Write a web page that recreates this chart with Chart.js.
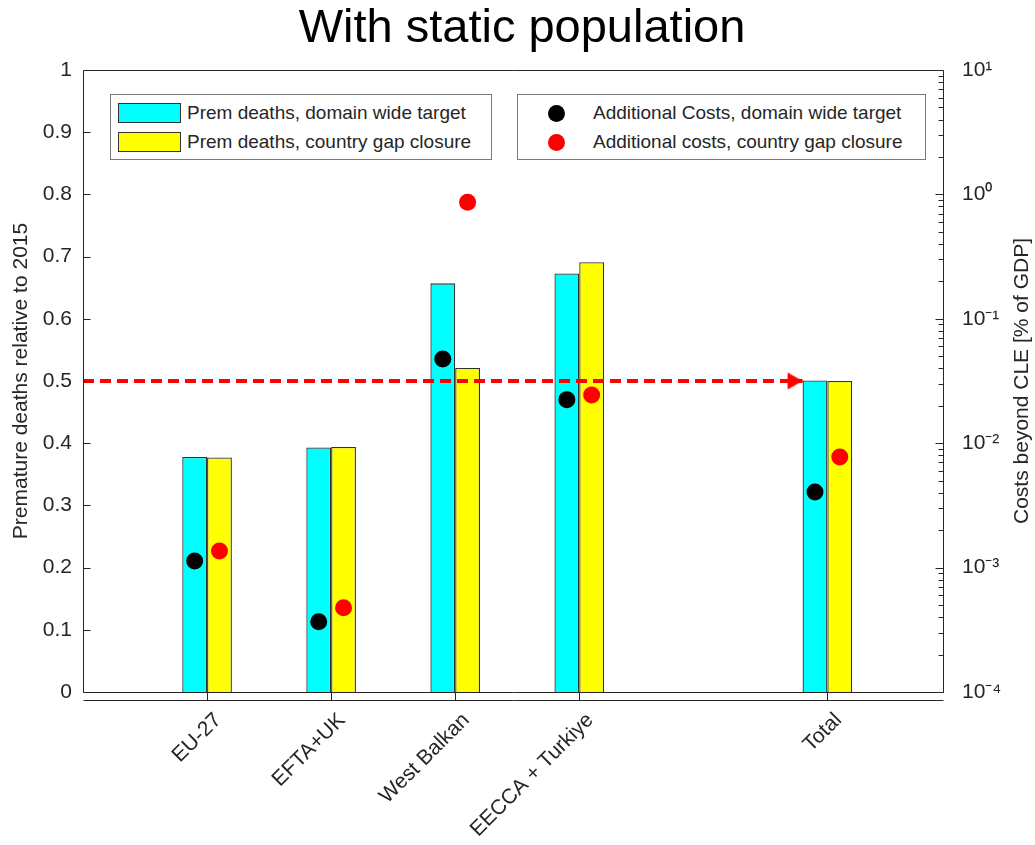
<!DOCTYPE html>
<html>
<head>
<meta charset="utf-8">
<script src="https://cdn.jsdelivr.net/npm/chart.js@4.4.1/dist/chart.umd.min.js"></script>
<style>
  html, body { margin: 0; padding: 0; background: #fff; }
  #wrap { position: relative; width: 1035px; height: 845px; font-family: 'Liberation Sans', Arial, sans-serif; }
  .legend { position: absolute; background: #fff; border: 1px solid #7a7a7a; box-sizing: border-box; }
  .item { position: absolute; font-size: 19px; color: #262626; line-height: 20px; white-space: nowrap; }
  .swatch { position: absolute; width: 63px; height: 20px; box-sizing: border-box; border: 1px solid #333; }
  .dot { position: absolute; width: 17px; height: 17px; border-radius: 50%; }
</style>
</head>
<body>
<div id="wrap">
  <canvas id="c" width="1035" height="845"></canvas>
</div>
<script>
// Regions on the x axis (Total is set apart by an empty slot)
const categories = ['EU-27', 'EFTA+UK', 'West Balkan', 'EECCA + Turkiye', 'Total'];
const slots = [1, 2, 3, 4, 6];

// Premature deaths relative to 2015 (left axis)
const deathsDomainWide = [0.378, 0.393, 0.657, 0.673, 0.501];
const deathsGapClosure = [0.377, 0.394, 0.521, 0.691, 0.500];

// Costs beyond CLE in % of GDP (right, logarithmic axis)
const costsDomainWide = [0.00113, 0.000367, 0.0475, 0.0224, 0.00405];
const costsGapClosure = [0.00136, 0.000476, 0.863, 0.0244, 0.00774];

// Left axis tick values and right axis decades
const leftTicks = [0, 0.1, 0.2, 0.3, 0.4, 0.5, 0.6, 0.7, 0.8, 0.9, 1];
const rightDecades = [-4, -3, -2, -1, 0, 1];

// Target level marked by the dashed arrow
const targetLevel = 0.5;

const seriesLabels = {
  deathsDomain: 'Prem deaths, domain wide target',
  deathsGap: 'Prem deaths, country gap closure',
  costsDomain: 'Additional Costs, domain wide target',
  costsGap: 'Additional costs, country gap closure'
};

const FONT = "'Liberation Sans', Arial, sans-serif";
const AXIS = '#262626';
const GROUP = 0.4;                    // width of a bar pair in slot units
const arrowTip = slots[slots.length - 1] - GROUP / 2;

// Arrow head: tip sits at the canvas centre so it lands exactly on the end point
const arrowHead = document.createElement('canvas');
arrowHead.width = 32; arrowHead.height = 19;
(function () {
  const g = arrowHead.getContext('2d');
  g.fillStyle = '#ff0000';
  g.beginPath();
  g.moveTo(16, 9.5); g.lineTo(1, 1); g.lineTo(1, 18); g.closePath();
  g.fill();
})();

const sup = { '-': '\u207B', '0': '\u2070', '1': '\u00B9', '2': '\u00B2', '3': '\u00B3', '4': '\u2074' };
const powLabel = v => '10' + String(Math.round(Math.log10(v))).split('').map(c => sup[c]).join('');

const toPoints = (vals, shift) => vals.map((v, i) => ({ x: slots[i] + shift, y: v }));

// Box, baseline, inward tick marks and the right-hand axis title
const framePlugin = {
  id: 'frame',
  afterDraw(chart) {
    const { ctx, chartArea: a, scales } = chart;
    const L = Math.round(a.left) + 0.5, R = Math.round(a.right) - 0.5;
    const T = Math.round(a.top) + 0.5, B = Math.round(a.bottom) + 0.5;
    ctx.save();
    ctx.strokeStyle = AXIS;
    ctx.lineWidth = 1;
    ctx.beginPath();
    ctx.rect(L, T, R - L, B - T);
    ctx.moveTo(L, B + 8); ctx.lineTo(R, B + 8);
    scales.y.ticks.forEach(t => {
      const y = Math.round(scales.y.getPixelForValue(t.value)) + 0.5;
      ctx.moveTo(L, y); ctx.lineTo(L + 7, y);
    });
    for (let e = -4; e <= 1; e++) {
      for (let k = 1; k <= 9; k++) {
        const v = k * Math.pow(10, e);
        if (v > scales.y2.max * 1.0001) break;
        const y = Math.round(scales.y2.getPixelForValue(v)) + 0.5;
        const len = k === 1 ? 8 : 5;
        ctx.moveTo(R, y); ctx.lineTo(R - len, y);
      }
    }
    ctx.stroke();

    const t = scales.y2.options.title;
    ctx.fillStyle = AXIS;
    ctx.font = '21px ' + FONT;
    ctx.textAlign = 'center';
    ctx.textBaseline = 'middle';
    ctx.translate(1022, (a.top + a.bottom) / 2);
    ctx.rotate(-Math.PI / 2);
    ctx.fillText(t.text, 0, 0);
    ctx.restore();
  }
};

const chart = new Chart(document.getElementById('c'), {
  type: 'bar',
  data: {
    datasets: [
      {
        type: 'line', label: seriesLabels.costsDomain, order: 0,
        data: toPoints(costsDomainWide, -GROUP / 4), yAxisID: 'y2',
        showLine: false, pointRadius: 8.5, pointBorderWidth: 0,
        pointBackgroundColor: '#000000', borderColor: '#000000', backgroundColor: '#000000'
      },
      {
        type: 'line', label: seriesLabels.costsGap, order: 0,
        data: toPoints(costsGapClosure, GROUP / 4), yAxisID: 'y2',
        showLine: false, pointRadius: 8.5, pointBorderWidth: 0,
        pointBackgroundColor: '#ff0000', borderColor: '#ff0000', backgroundColor: '#ff0000'
      },
      {
        type: 'line', label: 'target', order: 1,
        data: [{ x: 0, y: targetLevel }, { x: arrowTip, y: targetLevel }], yAxisID: 'y',
        borderColor: '#ff0000', borderWidth: 4, borderDash: [11, 6], fill: false, tension: 0,
        pointRadius: c => (c.dataIndex === 1 ? 10 : 0),
        pointStyle: c => (c.dataIndex === 1 ? arrowHead : 'circle'),
        pointBorderWidth: 0
      },
      {
        type: 'bar', label: seriesLabels.deathsDomain, order: 2,
        data: toPoints(deathsDomainWide, 0), yAxisID: 'y',
        backgroundColor: '#00ffff', borderColor: '#333333', borderWidth: 1.3,
        categoryPercentage: GROUP, barPercentage: 1
      },
      {
        type: 'bar', label: seriesLabels.deathsGap, order: 2,
        data: toPoints(deathsGapClosure, 0), yAxisID: 'y',
        backgroundColor: '#ffff00', borderColor: '#333333', borderWidth: 1.3,
        categoryPercentage: GROUP, barPercentage: 1
      }
    ]
  },
  options: {
    responsive: false,
    animation: false,
    devicePixelRatio: 1,
    events: [],
    layout: { padding: { left: 9, right: 0, top: 0, bottom: 0 } },
    plugins: {
      legend: { display: false },
      tooltip: { enabled: false },
      title: {
        display: true,
        text: 'With static population',
        color: '#000000',
        font: { family: FONT, size: 47, weight: 'normal', lineHeight: 1 },
        padding: { top: 6, bottom: 17 }
      }
    },
    scales: {
      x: {
        type: 'linear', position: 'bottom', min: 0, max: 6.94, bounds: 'data', offset: false,
        afterBuildTicks: s => { s.ticks = slots.map(v => ({ value: v })); },
        afterFit: s => { s.height = 153; },
        border: { display: false },
        grid: { display: true, offset: false, drawOnChartArea: false, drawTicks: true, tickLength: 8, color: AXIS, lineWidth: 1 },
        ticks: {
          autoSkip: false, minRotation: 45, maxRotation: 45, padding: 8, labelOffset: 11,
          color: AXIS, font: { family: FONT, size: 21 },
          callback: v => { const i = slots.indexOf(v); return i >= 0 ? categories[i] : ''; }
        }
      },
      y: {
        type: 'linear', position: 'left', min: 0, max: 1,
        afterBuildTicks: s => { s.ticks = leftTicks.map(v => ({ value: v })); },
        afterFit: s => { s.width = 74; },
        border: { display: false },
        grid: { display: false, drawTicks: false },
        ticks: {
          padding: 11, color: AXIS, font: { family: FONT, size: 21 },
          callback: v => String(Math.round(v * 10) / 10)
        },
        title: {
          display: true, text: 'Premature deaths relative to 2015', color: AXIS,
          font: { family: FONT, size: 21 }, padding: { top: 0, bottom: 0 }
        }
      },
      y2: {
        type: 'logarithmic', position: 'right', min: 1e-4, max: 10,
        afterBuildTicks: s => { s.ticks = rightDecades.map(e => ({ value: Math.pow(10, e) })); },
        afterFit: s => { s.width = 91; },
        border: { display: false },
        grid: { display: false, drawTicks: false },
        ticks: { padding: 18, color: AXIS, font: { family: FONT, size: 21 }, callback: v => powLabel(v) },
        title: { display: false, text: 'Costs beyond CLE [% of GDP]' }
      }
    }
  },
  plugins: [framePlugin]
});

// Two framed legends built from the dataset styling
(function buildLegends() {
  const wrap = document.getElementById('wrap');
  const ds = chart.data.datasets;
  const byLabel = l => ds.find(d => d.label === l);

  const box1 = document.createElement('div');
  box1.className = 'legend';
  Object.assign(box1.style, { left: '110px', top: '94px', width: '382px', height: '66px' });
  [seriesLabels.deathsDomain, seriesLabels.deathsGap].forEach((l, i) => {
    const sw = document.createElement('div');
    sw.className = 'swatch';
    Object.assign(sw.style, { left: '7px', top: (8 + i * 29) + 'px', background: byLabel(l).backgroundColor });
    const tx = document.createElement('div');
    tx.className = 'item';
    tx.textContent = l;
    Object.assign(tx.style, { left: '76px', top: (8 + i * 29) + 'px' });
    box1.appendChild(sw); box1.appendChild(tx);
  });

  const box2 = document.createElement('div');
  box2.className = 'legend';
  Object.assign(box2.style, { left: '517px', top: '94px', width: '409px', height: '66px' });
  [seriesLabels.costsDomain, seriesLabels.costsGap].forEach((l, i) => {
    const dt = document.createElement('div');
    dt.className = 'dot';
    Object.assign(dt.style, { left: '29.5px', top: (9.5 + i * 29) + 'px', background: byLabel(l).pointBackgroundColor });
    const tx = document.createElement('div');
    tx.className = 'item';
    tx.textContent = l;
    Object.assign(tx.style, { left: '75px', top: (8 + i * 29) + 'px' });
    box2.appendChild(dt); box2.appendChild(tx);
  });

  wrap.appendChild(box1);
  wrap.appendChild(box2);
})();
</script>
</body>
</html>
